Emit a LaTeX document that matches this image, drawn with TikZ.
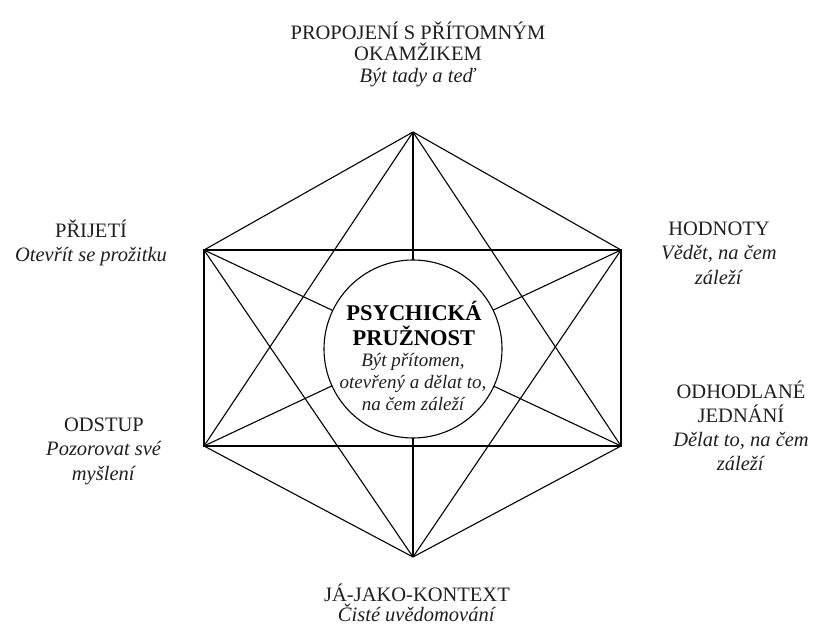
\documentclass[tikz,border=0pt]{standalone}
\usepackage{fontspec}
\setmainfont{Liberation Serif}
\begin{document}
\begin{tikzpicture}[x=1pt,y=-1pt,
  edge/.style={draw=black, line width=1.1pt},
  frame/.style={draw=black, line width=2.6pt, line join=miter},
  lbl/.style={align=center, inner sep=0pt, text=black!88, font=\fontsize{20.5}{24.5}\selectfont},
  hub/.style={circle, draw=black, line width=1.1pt, fill=white, minimum size=178pt, inner sep=0pt}]
\useasboundingbox (0,0) rectangle (814,628);
\coordinate (T) at (413,132);
\coordinate (B) at (413,557);
\coordinate (UL) at (204,250);
\coordinate (UR) at (621,250);
\coordinate (LL) at (204,446);
\coordinate (LR) at (621,446);
% complete graph on six vertices
\draw[edge] (T) -- (UL);
\draw[edge] (T) -- (UR);
\draw[edge] (T) -- (LL);
\draw[edge] (T) -- (LR);
\draw[edge] (T) -- (B);
\draw[edge] (UL) -- (LR);
\draw[edge] (UL) -- (B);
\draw[edge] (UR) -- (LL);
\draw[edge] (UR) -- (B);
\draw[edge] (LL) -- (B);
\draw[edge] (LR) -- (B);
\draw[frame] (UL) -- (UR) -- (LR) -- (LL) -- cycle;
\node[hub] (hub) at (413,349) {};
\node[lbl, text=black, font=\fontsize{22.5}{25}\selectfont\bfseries] (ctitle) at (414,323)
  {PSYCHICKÁ\\PRUŽNOST};
\node[lbl, font=\fontsize{19}{22}\selectfont\itshape] (ctext) at (413,382)
  {Být přítomen,\\otevřený a dělat to,\\na čem záleží};
\node[lbl, font=\fontsize{20.5}{21.5}\selectfont] (top) at (418,54)
  {PROPOJENÍ S PŘÍTOMNÝM\\OKAMŽIKEM\\\textit{Být tady a teď}};
\node[lbl] (acc) at (91,243) {PŘIJETÍ\\\textit{Otevřít se prožitku}};
\node[lbl] (def) at (104,451) {ODSTUP\\\textit{Pozorovat své}\\\textit{myšlení}};
\node[lbl] (val) at (719,253) {HODNOTY\\\textit{Vědět, na čem}\\\textit{záleží}};
\node[lbl, font=\fontsize{20.5}{24}\selectfont] (act) at (741,426) {ODHODLANÉ\\JEDNÁNÍ\\\textit{Dělat to, na čem}\\\textit{záleží}};
\node[lbl, font=\fontsize{20.5}{20.5}\selectfont] (self) at (417,603) {JÁ-JAKO-KONTEXT\\\textit{Čisté uvědomování}};
\end{tikzpicture}
\end{document}
